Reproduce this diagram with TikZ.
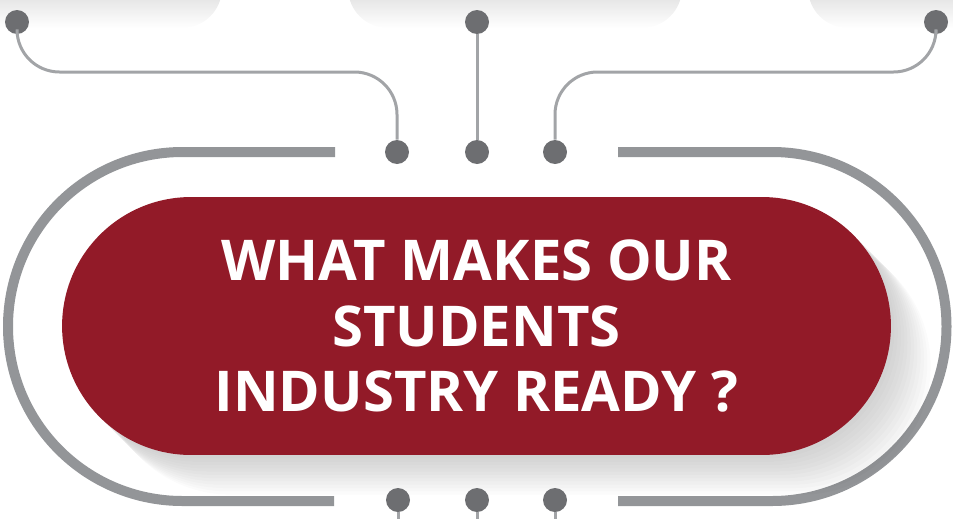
\documentclass[tikz,border=0pt]{standalone}
\usepackage{fontspec}
\setsansfont{Open Sans}
\usepackage{xcolor}
\usetikzlibrary{shapes.misc,positioning}
\definecolor{pillred}{HTML}{921A28}
\definecolor{ringgray}{HTML}{939598}
\definecolor{pingray}{HTML}{6D6E71}
\definecolor{wiregray}{HTML}{A2A4A7}

\begin{document}
\begin{tikzpicture}[x=0.02cm, y=-0.02cm,
                    ring/.style={line width=0.2cm, ringgray},
                    wire/.style={line width=0.06cm, wiregray, rounded corners=0.85cm},
                    pin/.style={circle, fill=pingray, minimum size=0.48cm, inner sep=0pt},
                    pill/.style={rounded rectangle, fill=pillred, minimum width=16.58cm,
                                 minimum height=5.16cm, inner sep=0pt, text=white, align=center,
                                 font={\sffamily\bfseries\fontsize{32}{37.2}\selectfont}},
                    topshade/.style={top color=gray!45, bottom color=white, rounded corners=0.8cm},
                   ]

\useasboundingbox (0,0) rectangle (953,518);
\clip (0,0) rectangle (953,518);

% shadows of the boxes above
\shade[topshade] (-60,-40) rectangle (222,28);
\shade[topshade] (348,-40) rectangle (682,28);
\shade[topshade] (808,-40) rectangle (1020,28);

% outer frame
\draw[ring, rounded corners=3.49cm] (335,152) -- (8,152) -- (8,501) -- (334,501);
\draw[ring, rounded corners=3.49cm] (618,152) -- (946.5,152) -- (946.5,501) -- (618,501);

% long shadow of the question
\foreach \i in {1,...,12}
  \fill[black, opacity=0.017, rounded corners=2.58cm, shift={(\i*3.3,\i*3.3)}] (62,197) rectangle (891,455);

\node[pill] (question) at (476.5,326) {WHAT MAKES OUR\\STUDENTS\\INDUSTRY READY ?};

% pins
\node[pin] (tl) at (17,22) {};
\node[pin] (tm) at (477,22) {};
\node[pin] (tr) at (936,22) {};
\node[pin] (ul) at (397,152) {};
\node[pin] (um) at (477,152) {};
\node[pin] (ur) at (555,152) {};
\node[pin] (dl) at (398,500) {};
\node[pin] (dm) at (477,500) {};
\node[pin] (dr) at (555,500) {};

\coordinate (bend) at (0,72);
\coordinate (floor) at (0,530);

\draw[wire] (tl) -- (tl |- bend) -- (ul |- bend) -- (ul);
\draw[wire] (tm) -- (um);
\draw[wire] (tr) -- (tr |- bend) -- (ur |- bend) -- (ur);
\draw[wire] (dl) -- (dl |- floor);
\draw[wire] (dm) -- (dm |- floor);
\draw[wire] (dr) -- (dr |- floor);

\end{tikzpicture}
\end{document}
